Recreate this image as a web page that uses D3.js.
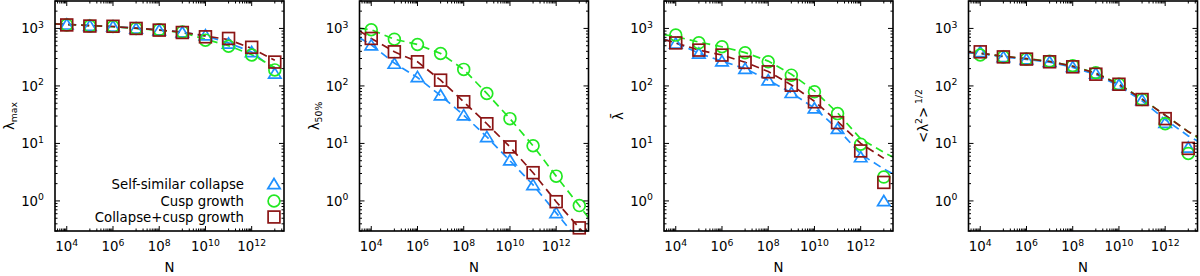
<!DOCTYPE html>
<html>
<head>
<meta charset="utf-8">
<script src="https://cdn.jsdelivr.net/npm/d3@7"></script>
<style>
  html, body { margin: 0; padding: 0; background: #fff; }
  svg { display: block; font-family: "DejaVu Sans", sans-serif; }
</style>
</head>
<body>
<svg id="chart" width="1200" height="276"></svg>
<script>
/* ── Data ───────────────────────────────────────────────────────── */
const N_PTS  = [1e4, 1e5, 1e6, 1e7, 1e8, 1e9, 1e10, 1e11, 1e12, 1e13];
const N_LINE = [10 ** 3.5, 1e4, 1e5, 1e6, 1e7, 1e8, 1e9, 1e10, 1e11, 1e12, 1e13, 10 ** 13.5];

const SERIES_NAMES = ['Self-similar collapse', 'Cusp growth', 'Collapse+cusp growth'];

// panel 1: lambda_max
const MAX_SS = [1180, 1120, 1090, 1000, 935, 860, 765, 550, 390, 165];
const MAX_CG = [1150, 1100, 1080, 1000, 950, 870, 625, 490, 345, 190];
const MAX_CC = [1150, 1100, 1090, 1000, 935, 850, 715, 670, 470, 260];
const MAX_SS_FIT = [1200, 1180, 1130, 1080, 1010, 940, 860, 740, 560, 390, 190, null];
const MAX_CG_FIT = [1200, 1170, 1120, 1070, 1000, 930, 850, 650, 500, 350, 210, null];
const MAX_CC_FIT = [1200, 1170, 1120, 1080, 1010, 940, 860, 740, 640, 450, 280, null];

// panel 2: lambda_50%
const P50_SS = [512, 245, 144, 69, 31, 13, 5.1, 1.9, 0.62, null];
const P50_CG = [950, 650, 525, 367, 194, 74, 27, 9.1, 2.7, 0.83];
const P50_CC = [670, 392, 263, 126, 53, 22, 8.7, 3.1, 0.97, 0.34];
const P50_SS_FIT = [680, 520, 250, 140, 68, 31, 13, 5, 1.9, 0.62, 0.2, 0.1];
const P50_CG_FIT = [1000, 950, 650, 525, 367, 194, 74, 27, 9.1, 2.7, 0.83, 0.45];
const P50_CC_FIT = [900, 670, 392, 263, 126, 53, 22, 8.7, 3.1, 0.97, 0.34, 0.2];

// panel 3: mean lambda
const AVG_SS = [550, 367, 270, 200, 126, 76, 41, 18, 5.8, 1.0];
const AVG_CG = [765, 562, 480, 377, 263, 154, 79, 33, 9.7, 2.6];
const AVG_CC = [560, 420, 344, 257, 176, 103, 53, 23, 7.4, 2.1];
const AVG_SS_FIT = [650, 560, 370, 270, 200, 126, 76, 41, 18, 6.5, 3.6, 2.8];
const AVG_CG_FIT = [780, 720, 580, 480, 380, 270, 160, 82, 34, 12, 7, 5.5];
const AVG_CC_FIT = [640, 560, 420, 345, 258, 178, 104, 54, 24, 10, 5.5, null];

// panel 4: rms lambda
const RMS_SS = [390, 320, 293, 263, 215, 165, 105, 57, 23, 8.5];
const RMS_CG = [345, 320, 293, 270, 225, 170, 107, 58, 22, 6.7];
const RMS_CC = [392, 320, 293, 263, 215, 160, 107, 58, 27, 8.2];
const RMS_SS_FIT = [375, 365, 320, 290, 260, 210, 158, 100, 55, 26, 13.5, 10.5];
const RMS_CG_FIT = [385, 372, 328, 298, 268, 222, 168, 108, 59, 31, 16, 12];
const RMS_CC_FIT = [385, 372, 328, 298, 266, 220, 166, 106, 59, 31, 16, 12.5];

const X_TICKS = [1e4, 1e6, 1e8, 1e10, 1e12];
const Y_TICKS = [1, 10, 100, 1000];

/* ── Configuration ───────────────────────────────────────────────── */
const COLORS  = ['#1e90ff', '#22e822', '#8b1414'];
const SHAPES  = ['tri', 'circ', 'sq'];
const P_LEFT  = 55;      // first panel left edge
const P_STEP  = 304.5;   // distance between panels
const P_W     = 229;
const P_TOP   = 1;
const P_BOT   = 231;
const FONT_PX = 13.3;
const SUP_PX  = 9.3;

const panels = [
  { label: 'max',  pts: [MAX_SS, MAX_CG, MAX_CC], fits: [MAX_SS_FIT, MAX_CG_FIT, MAX_CC_FIT], legend: true },
  { label: 'p50',  pts: [P50_SS, P50_CG, P50_CC], fits: [P50_SS_FIT, P50_CG_FIT, P50_CC_FIT] },
  { label: 'avg',  pts: [AVG_SS, AVG_CG, AVG_CC], fits: [AVG_SS_FIT, AVG_CG_FIT, AVG_CC_FIT] },
  { label: 'rms',  pts: [RMS_SS, RMS_CG, RMS_CC], fits: [RMS_SS_FIT, RMS_CG_FIT, RMS_CC_FIT] }
];

/* ── Helpers ─────────────────────────────────────────────────────── */
function marker(sel, shape, color) {
  if (shape === 'tri') {
    sel.append('path').attr('d', 'M0,-5.5 L6.2,4.7 L-6.2,4.7 Z');
  } else if (shape === 'circ') {
    sel.append('circle').attr('r', 5.9);
  } else {
    sel.append('rect').attr('x', -5.9).attr('y', -5.9).attr('width', 11.8).attr('height', 11.8);
  }
  sel.selectAll('*').attr('fill', 'none').attr('stroke', color).attr('stroke-width', 1.7);
}

function powLabel(sel, exp) {
  sel.append('tspan').text('10');
  sel.append('tspan').attr('font-size', SUP_PX).attr('dy', -5.5).text(exp);
}

function yLabel(g, kind) {
  const t = g.append('text')
    .attr('transform', `translate(${-41},${(P_BOT - P_TOP) / 2 + P_TOP}) rotate(-90)`)
    .attr('text-anchor', 'middle')
    .attr('font-size', FONT_PX);
  if (kind === 'max') {
    t.append('tspan').text('λ');
    t.append('tspan').attr('font-size', SUP_PX).attr('dy', 3).text('max');
  } else if (kind === 'p50') {
    t.append('tspan').text('λ');
    t.append('tspan').attr('font-size', SUP_PX).attr('dy', 3).text('50%');
  } else if (kind === 'avg') {
    t.text('λ\u0304');
  } else {
    t.append('tspan').text('<λ');
    t.append('tspan').attr('font-size', SUP_PX).attr('dy', -5.5).text('2');
    t.append('tspan').attr('dy', 5.5).text('>');
    t.append('tspan').attr('font-size', SUP_PX).attr('dy', -5.5).text(' 1/2');
  }
}

/* ── Main ────────────────────────────────────────────────────────── */
const svg = d3.select('#chart');

panels.forEach((p, i) => {
  const x0 = P_LEFT + i * P_STEP;
  const x = d3.scaleLog().domain([3100, 2.5e13]).range([0, P_W]);
  const y = d3.scaleLog().domain([0.3, 3000]).range([P_BOT, P_TOP]);
  const g = svg.append('g').attr('transform', `translate(${x0},0)`);

  const clipId = 'clip' + i;
  g.append('clipPath').attr('id', clipId)
    .append('rect').attr('x', 0).attr('y', P_TOP).attr('width', P_W).attr('height', P_BOT - P_TOP);

  /* Fit lines */
  const line = d3.line()
    .defined(d => d[1] != null)
    .x(d => x(d[0]))
    .y(d => y(d[1]));
  const lg = g.append('g').attr('clip-path', `url(#${clipId})`);
  p.fits.forEach((f, s) => {
    lg.append('path')
      .attr('d', line(N_LINE.map((n, k) => [n, f[k]])))
      .attr('fill', 'none')
      .attr('stroke', COLORS[s])
      .attr('stroke-width', 1.7)
      .attr('stroke-dasharray', '8,5');
  });

  /* Points */
  p.pts.forEach((vals, s) => {
    N_PTS.forEach((n, k) => {
      if (vals[k] == null) return;
      const m = g.append('g').attr('transform', `translate(${x(n)},${y(vals[k])})`);
      marker(m, SHAPES[s], COLORS[s]);
    });
  });

  /* Frame */
  g.append('rect')
    .attr('x', 0).attr('y', P_TOP).attr('width', P_W).attr('height', P_BOT - P_TOP)
    .attr('fill', 'none').attr('stroke', '#000').attr('stroke-width', 1.6);

  /* X ticks: majors every other decade, minors on the odd decades */
  const tk = g.append('g').attr('stroke', '#000').attr('stroke-width', 1);
  const [xa, xb] = x.domain();
  for (let e = 3; e <= 13; e++) {
    for (let m = 1; m <= 9; m++) {
      const v = m * 10 ** e;
      if (v < xa || v > xb) continue;
      let len;
      if (m === 1 && e % 2 === 0) len = 5;
      else if (e % 2 === 1) len = 2.5;
      else continue;
      const px = x(v);
      tk.append('line').attr('x1', px).attr('x2', px).attr('y1', P_BOT).attr('y2', P_BOT - len);
      tk.append('line').attr('x1', px).attr('x2', px).attr('y1', P_TOP).attr('y2', P_TOP + len);
    }
  }
  /* Y ticks */
  const [ya, yb] = y.domain();
  for (let e = -1; e <= 3; e++) {
    for (let m = 1; m <= 9; m++) {
      const v = m * 10 ** e;
      if (v < ya || v > yb) continue;
      const len = m === 1 ? 5 : 2.5;
      const py = y(v);
      tk.append('line').attr('x1', 0).attr('x2', len).attr('y1', py).attr('y2', py);
      tk.append('line').attr('x1', P_W).attr('x2', P_W - len).attr('y1', py).attr('y2', py);
    }
  }

  /* Tick labels */
  X_TICKS.forEach(v => {
    const t = g.append('text')
      .attr('x', x(v)).attr('y', 251)
      .attr('text-anchor', 'middle')
      .attr('font-size', FONT_PX);
    powLabel(t, Math.round(Math.log10(v)));
  });
  Y_TICKS.forEach(v => {
    const t = g.append('text')
      .attr('x', -11).attr('y', y(v) + 5)
      .attr('text-anchor', 'end')
      .attr('font-size', FONT_PX);
    powLabel(t, Math.round(Math.log10(v)));
  });

  /* Axis labels */
  g.append('text')
    .attr('x', P_W / 2).attr('y', 272)
    .attr('text-anchor', 'middle')
    .attr('font-size', FONT_PX)
    .text('N');
  yLabel(g, p.label);

  /* Legend */
  if (p.legend) {
    const rows = [184, 201, 217];
    SERIES_NAMES.forEach((name, s) => {
      g.append('text')
        .attr('x', 189).attr('y', rows[s] + 4.6)
        .attr('text-anchor', 'end')
        .attr('font-size', FONT_PX)
        .text(name);
      const m = g.append('g').attr('transform', `translate(219,${rows[s]})`);
      marker(m, SHAPES[s], COLORS[s]);
    });
  }
});
</script>
</body>
</html>
